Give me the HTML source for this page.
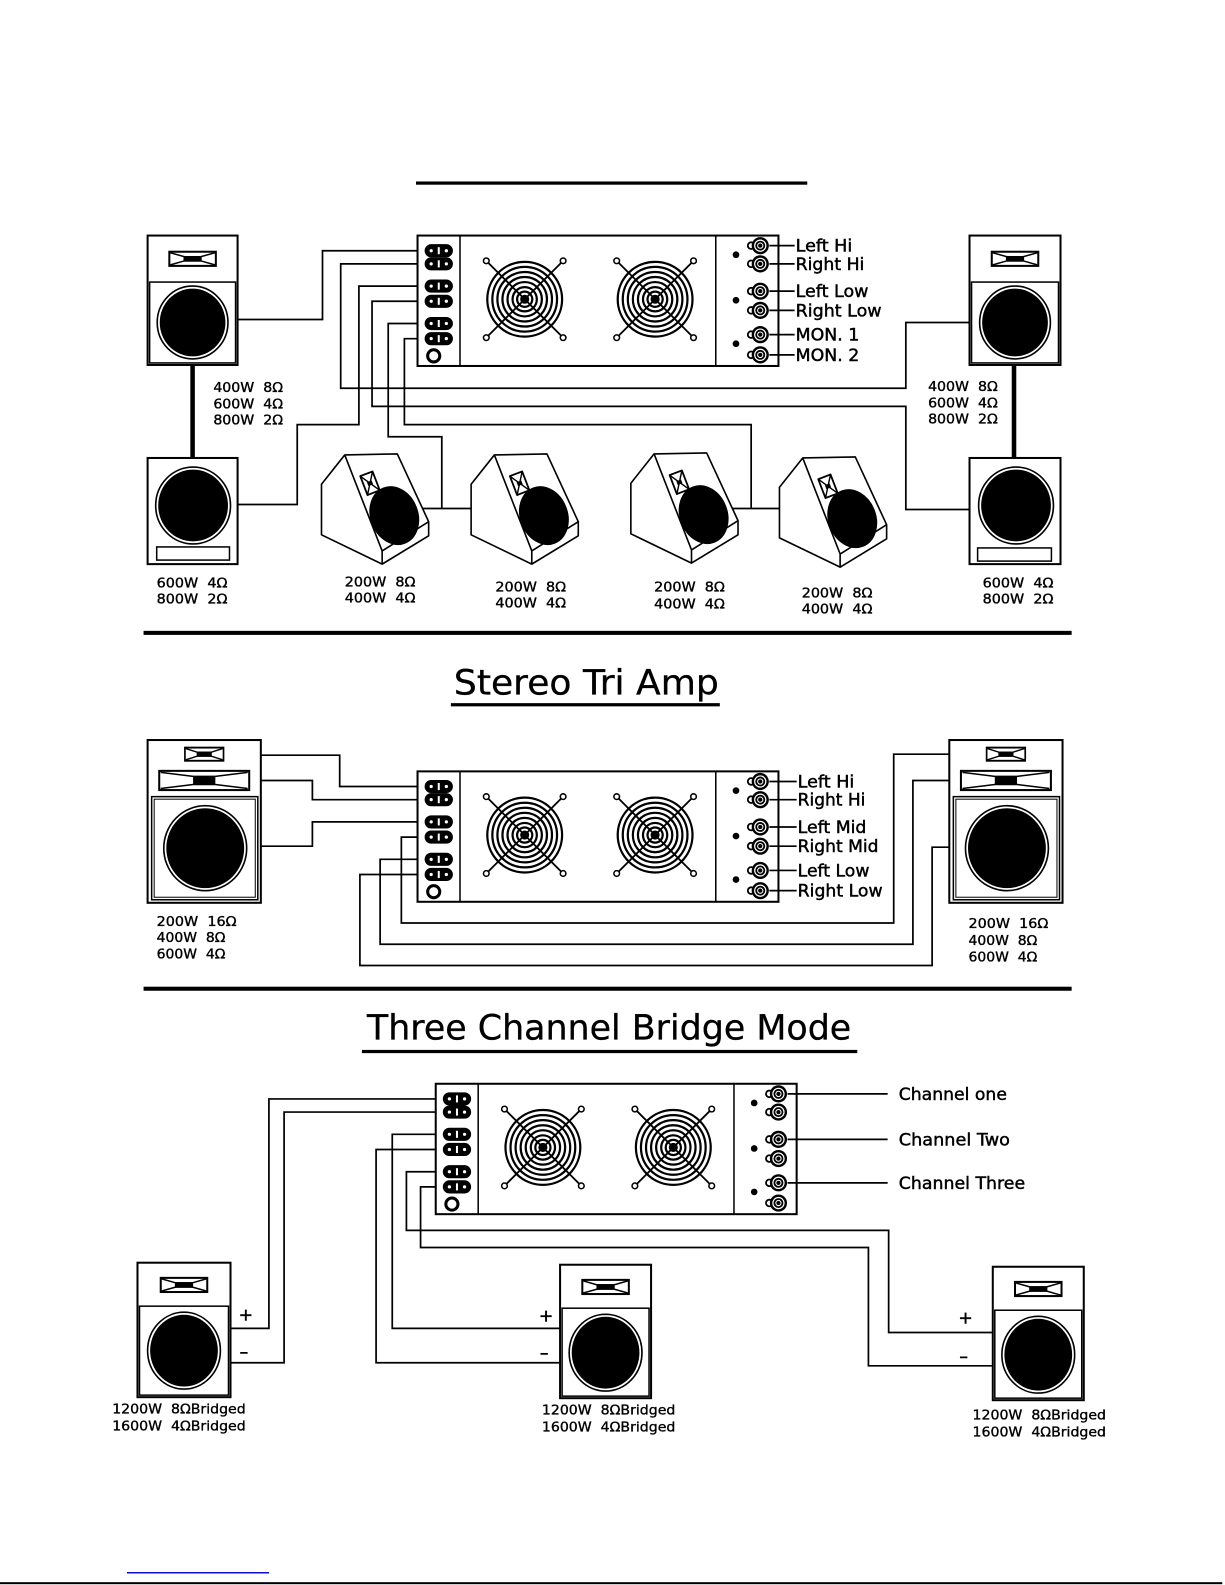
<!DOCTYPE html>
<html><head><meta charset="utf-8">
<style>
html,body{margin:0;padding:0;background:#fff;}
svg{display:block}
text{font-family:"DejaVu Sans","Liberation Sans",sans-serif;fill:#000;stroke:#000;stroke-width:0.35}
.j{font-size:17px;stroke-width:0.45}
.s{font-size:13px}
.t{font-size:34px;stroke-width:0.3}
.b{font-size:13.5px}
.pm{font-size:17px;stroke-width:0.5}
.w{fill:none;stroke:#000;stroke-width:1.7}
.bx{fill:#fff;stroke:#000;stroke-width:2}
.bx1{fill:#fff;stroke:#000;stroke-width:1.5}
.rg{fill:#fff;stroke:#000;stroke-width:1.6}
</style></head><body>
<svg width="1225" height="1585" viewBox="0 0 1211.7 1567.8" preserveAspectRatio="none" xmlns="http://www.w3.org/2000/svg">
<defs>
 <g id="con">
  <rect x="-14" y="-6.5" width="28" height="13" rx="6.5" fill="#000"/>
  <circle cx="-7.5" cy="0" r="1.6" fill="#fff"/>
  <rect x="-1" y="-3.5" width="2" height="7" fill="#fff"/>
  <circle cx="7.5" cy="0" r="1.6" fill="#fff"/>
 </g>
 <g id="jack">
  <circle cx="-9" cy="0" r="3.3" fill="#fff" stroke="#000" stroke-width="1.8"/>
  <circle r="8.5" fill="#000"/>
  <circle r="5.5" fill="none" stroke="#fff" stroke-width="1.2"/>
  <circle r="2.6" fill="none" stroke="#fff" stroke-width="1"/>
 </g>
 <g id="fan" fill="none" stroke="#000">
  <circle r="37" stroke-width="2.2"/>
  <circle r="32" stroke-width="2.2"/>
  <circle r="27" stroke-width="2.2"/>
  <circle r="22" stroke-width="2.2"/>
  <circle r="17" stroke-width="2.2"/>
  <circle r="12" stroke-width="2.2"/>
  <circle r="7.5" stroke-width="2.2"/>
  <circle r="4" fill="#000"/>
  <path d="M-36,-36L36,36M36,-36L-36,36" stroke-width="1.8"/>
  <circle cx="-38" cy="-38" r="2.8" fill="#fff" stroke-width="1.5"/>
  <circle cx="38" cy="-38" r="2.8" fill="#fff" stroke-width="1.5"/>
  <circle cx="-38" cy="38" r="2.8" fill="#fff" stroke-width="1.5"/>
  <circle cx="38" cy="38" r="2.8" fill="#fff" stroke-width="1.5"/>
 </g>
 <g id="amp">
  <rect x="0" y="0" width="357" height="129" fill="#fff" stroke="#000" stroke-width="2"/>
  <line x1="42" y1="0" x2="42" y2="129" stroke="#000" stroke-width="1.5"/>
  <line x1="295" y1="0" x2="295" y2="129" stroke="#000" stroke-width="1.5"/>
  <use href="#con" x="21" y="15"/>
  <use href="#con" x="21" y="28"/>
  <use href="#con" x="21" y="50"/>
  <use href="#con" x="21" y="65"/>
  <use href="#con" x="21" y="87"/>
  <use href="#con" x="21" y="102"/>
  <circle cx="16" cy="119" r="6" fill="#fff" stroke="#000" stroke-width="3"/>
  <use href="#fan" x="106" y="63"/>
  <use href="#fan" x="235" y="63"/>
  <circle cx="315" cy="19" r="3.3" fill="#000"/>
  <circle cx="315" cy="64" r="3.3" fill="#000"/>
  <circle cx="315" cy="107" r="3.3" fill="#000"/>
  <use href="#jack" x="339" y="10"/>
  <use href="#jack" x="339" y="28"/>
  <use href="#jack" x="339" y="55"/>
  <use href="#jack" x="339" y="74"/>
  <use href="#jack" x="339" y="98"/>
  <use href="#jack" x="339" y="118"/>
 </g>
 <g id="tw">
  <rect x="-23" y="-7" width="46" height="14" fill="#fff" stroke="#000" stroke-width="2"/>
  <path d="M-22,-6 L-8,-2 H8 L22,-6 M-22,6 L-8,2 H8 L22,6" fill="none" stroke="#000" stroke-width="1.5"/>
  <rect x="-9" y="-2.8" width="18" height="5.6" fill="#000"/>
 </g>
 <g id="mid">
  <rect x="-44.5" y="-9.5" width="89" height="19" fill="#fff" stroke="#000" stroke-width="2"/>
  <path d="M-43,-8 L-11,-4 H11 L43,-8 M-43,8 L-11,4 H11 L43,8" fill="none" stroke="#000" stroke-width="1.5"/>
  <rect x="-11" y="-4" width="22" height="8" fill="#000"/>
 </g>
 <g id="mon" stroke="#000" stroke-width="1.6" stroke-linejoin="round">
  <path d="M0,30 L23,1 L75,0 L106,67 L106,81 L60,109 L0,80 Z" fill="#fff"/>
  <path d="M23,1 L60,96 L106,67 M60,96 V109" fill="none"/>
  <ellipse cx="72" cy="61" rx="23" ry="29" transform="rotate(-21 72 61)" fill="#000"/>
  <g transform="translate(48,29) rotate(-21)">
   <rect x="-6.5" y="-10" width="13" height="20" fill="#fff" stroke-width="1.8"/>
   <path d="M-6.5,-10 L6.5,10 M6.5,-10 L-6.5,10" fill="none" stroke-width="1.4"/>
   <rect x="-2.5" y="-2" width="5" height="4" fill="#000" stroke="none"/>
  </g>
 </g>
</defs>

<!-- top title underline -->
<rect x="411.5" y="179.5" width="387" height="3.2" fill="#000"/>

<!-- ========== SECTION 1 ========== -->
<path class="w" d="M421,248 H319 V316 H235"/>
<path class="w" d="M421,261 H337 V384 H896 V319 H959"/>
<path class="w" d="M421,283 H355 V420 H294 V499 H235"/>
<path class="w" d="M421,298 H368 V402 H896 V504 H959"/>
<path class="w" d="M421,320 H384 V432 H437 V503"/>
<path class="w" d="M421,335 H400 V420 H743 V503"/>
<path class="w" d="M418,503 H466"/>
<path class="w" d="M724,503 H771"/>

<use href="#amp" x="413" y="233"/>
<path class="w" d="M761,243 H786 M761,261 H786 M761,288 H786 M761,307 H786 M761,331 H786 M761,351 H786"/>
<text class="j" x="787" y="249" textLength="56" lengthAdjust="spacingAndGlyphs">Left Hi</text>
<text class="j" x="787" y="267" textLength="68" lengthAdjust="spacingAndGlyphs">Right Hi</text>
<text class="j" x="787" y="294" textLength="72" lengthAdjust="spacingAndGlyphs">Left Low</text>
<text class="j" x="787" y="313" textLength="85" lengthAdjust="spacingAndGlyphs">Right Low</text>
<text class="j" x="787" y="337" textLength="63" lengthAdjust="spacingAndGlyphs">MON. 1</text>
<text class="j" x="787" y="357" textLength="63" lengthAdjust="spacingAndGlyphs">MON. 2</text>

<!-- left speakers -->
<rect x="146" y="233" width="89" height="128" class="bx"/>
<use href="#tw" x="190.5" y="256"/>
<rect x="148" y="279" width="85" height="80" class="bx1"/>
<ellipse cx="190.5" cy="319" rx="35" ry="36" class="rg"/>
<ellipse cx="190.5" cy="319" rx="32.5" ry="33.5" fill="#000"/>
<line x1="190.5" y1="361" x2="190.5" y2="453" stroke="#000" stroke-width="4.5"/>
<rect x="146" y="453" width="89" height="105" class="bx"/>
<ellipse cx="191" cy="500" rx="37" ry="38" class="rg"/>
<ellipse cx="191" cy="500" rx="34.5" ry="35.5" fill="#000"/>
<rect x="155" y="541" width="72" height="13" class="bx1"/>

<!-- right speakers -->
<rect x="959" y="233" width="90" height="128" class="bx"/>
<use href="#tw" x="1004" y="256"/>
<rect x="961" y="279" width="86" height="80" class="bx1"/>
<ellipse cx="1004" cy="319" rx="35" ry="36" class="rg"/>
<ellipse cx="1004" cy="319" rx="32.5" ry="33.5" fill="#000"/>
<line x1="1003" y1="361" x2="1003" y2="453" stroke="#000" stroke-width="4.5"/>
<rect x="959" y="453" width="90" height="105" class="bx"/>
<ellipse cx="1005" cy="500" rx="37" ry="38" class="rg"/>
<ellipse cx="1005" cy="500" rx="34.5" ry="35.5" fill="#000"/>
<rect x="967" y="542" width="73" height="13" class="bx1"/>

<!-- monitors -->
<use href="#mon" x="318" y="449"/>
<use href="#mon" x="466" y="449"/>
<use href="#mon" x="624" y="448"/>
<use href="#mon" x="771" y="452"/>

<!-- section 1 spec labels -->
<text class="s" x="211" y="388" textLength="69" lengthAdjust="spacingAndGlyphs">400W&#160;&#160;8Ω</text>
<text class="s" x="211" y="404" textLength="69" lengthAdjust="spacingAndGlyphs">600W&#160;&#160;4Ω</text>
<text class="s" x="211" y="420" textLength="69" lengthAdjust="spacingAndGlyphs">800W&#160;&#160;2Ω</text>
<text class="s" x="918" y="387" textLength="69" lengthAdjust="spacingAndGlyphs">400W&#160;&#160;8Ω</text>
<text class="s" x="918" y="403" textLength="69" lengthAdjust="spacingAndGlyphs">600W&#160;&#160;4Ω</text>
<text class="s" x="918" y="419" textLength="69" lengthAdjust="spacingAndGlyphs">800W&#160;&#160;2Ω</text>
<text class="s" x="155" y="581" textLength="70" lengthAdjust="spacingAndGlyphs">600W&#160;&#160;4Ω</text>
<text class="s" x="155" y="597" textLength="70" lengthAdjust="spacingAndGlyphs">800W&#160;&#160;2Ω</text>
<text class="s" x="972" y="581" textLength="70" lengthAdjust="spacingAndGlyphs">600W&#160;&#160;4Ω</text>
<text class="s" x="972" y="597" textLength="70" lengthAdjust="spacingAndGlyphs">800W&#160;&#160;2Ω</text>
<text class="s" x="341" y="580" textLength="70" lengthAdjust="spacingAndGlyphs">200W&#160;&#160;8Ω</text>
<text class="s" x="341" y="596" textLength="70" lengthAdjust="spacingAndGlyphs">400W&#160;&#160;4Ω</text>
<text class="s" x="490" y="585" textLength="70" lengthAdjust="spacingAndGlyphs">200W&#160;&#160;8Ω</text>
<text class="s" x="490" y="601" textLength="70" lengthAdjust="spacingAndGlyphs">400W&#160;&#160;4Ω</text>
<text class="s" x="647" y="585" textLength="70" lengthAdjust="spacingAndGlyphs">200W&#160;&#160;8Ω</text>
<text class="s" x="647" y="602" textLength="70" lengthAdjust="spacingAndGlyphs">400W&#160;&#160;4Ω</text>
<text class="s" x="793" y="591" textLength="70" lengthAdjust="spacingAndGlyphs">200W&#160;&#160;8Ω</text>
<text class="s" x="793" y="607" textLength="70" lengthAdjust="spacingAndGlyphs">400W&#160;&#160;4Ω</text>

<!-- divider 1 -->
<rect x="142" y="624" width="918" height="4" fill="#000"/>

<!-- ========== SECTION 2 ========== -->
<text class="t" x="449" y="687" textLength="262" lengthAdjust="spacingAndGlyphs">Stereo Tri Amp</text>
<rect x="446" y="695.5" width="266" height="3.2" fill="#000"/>

<path class="w" d="M258,747 H336 V778 H421"/>
<path class="w" d="M258,772 H309 V791 H421"/>
<path class="w" d="M258,837 H309 V813 H421"/>
<path class="w" d="M421,828 H397 V913 H884 V746 H939"/>
<path class="w" d="M421,850 H376 V934 H903 V772 H939"/>
<path class="w" d="M421,865 H356 V955 H922 V838 H939"/>

<use href="#amp" x="413" y="763"/>
<path class="w" d="M761,773 H788 M761,791 H788 M761,818 H788 M761,837 H788 M761,861 H788 M761,881 H788"/>
<text class="j" x="789" y="779" textLength="56" lengthAdjust="spacingAndGlyphs">Left Hi</text>
<text class="j" x="789" y="797" textLength="67" lengthAdjust="spacingAndGlyphs">Right Hi</text>
<text class="j" x="789" y="824" textLength="68" lengthAdjust="spacingAndGlyphs">Left Mid</text>
<text class="j" x="789" y="843" textLength="80" lengthAdjust="spacingAndGlyphs">Right Mid</text>
<text class="j" x="789" y="867" textLength="71" lengthAdjust="spacingAndGlyphs">Left Low</text>
<text class="j" x="789" y="887" textLength="84" lengthAdjust="spacingAndGlyphs">Right Low</text>

<!-- left 3-way speaker -->
<rect x="146" y="732" width="112" height="161" class="bx"/>
<use href="#tw" x="202" y="746" transform="translate(202 746) scale(0.83 0.93) translate(-202 -746)"/>
<use href="#mid" x="202" y="772"/>
<rect x="150" y="788" width="105" height="102" class="bx1"/>
<rect x="152.5" y="790.5" width="100" height="97" fill="none" stroke="#000" stroke-width="1"/>
<ellipse cx="203" cy="839" rx="41" ry="42" class="rg"/>
<ellipse cx="203" cy="839" rx="38.5" ry="39.5" fill="#000"/>

<!-- right 3-way speaker -->
<rect x="939" y="732" width="112" height="161" class="bx"/>
<use href="#tw" x="995" y="746" transform="translate(995 746) scale(0.83 0.93) translate(-995 -746)"/>
<use href="#mid" x="995" y="772"/>
<rect x="943" y="788" width="105" height="102" class="bx1"/>
<rect x="945.5" y="790.5" width="100" height="97" fill="none" stroke="#000" stroke-width="1"/>
<ellipse cx="996" cy="839" rx="41" ry="42" class="rg"/>
<ellipse cx="996" cy="839" rx="38.5" ry="39.5" fill="#000"/>

<text class="s" x="155" y="916" textLength="79" lengthAdjust="spacingAndGlyphs">200W&#160;&#160;16Ω</text>
<text class="s" x="155" y="932" textLength="68" lengthAdjust="spacingAndGlyphs">400W&#160;&#160;8Ω</text>
<text class="s" x="155" y="948" textLength="68" lengthAdjust="spacingAndGlyphs">600W&#160;&#160;4Ω</text>
<text class="s" x="958" y="918" textLength="79" lengthAdjust="spacingAndGlyphs">200W&#160;&#160;16Ω</text>
<text class="s" x="958" y="935" textLength="68" lengthAdjust="spacingAndGlyphs">400W&#160;&#160;8Ω</text>
<text class="s" x="958" y="951" textLength="68" lengthAdjust="spacingAndGlyphs">600W&#160;&#160;4Ω</text>

<!-- divider 2 -->
<rect x="142" y="976" width="918" height="4" fill="#000"/>

<!-- ========== SECTION 3 ========== -->
<text class="t" x="363" y="1028" textLength="479" lengthAdjust="spacingAndGlyphs">Three Channel Bridge Mode</text>
<rect x="358" y="1038.5" width="490" height="3.2" fill="#000"/>

<path class="w" d="M439,1087 H266 V1314 H228"/>
<path class="w" d="M439,1100 H281 V1348 H228"/>
<path class="w" d="M439,1122 H388 V1314 H554"/>
<path class="w" d="M439,1137 H372 V1348 H554"/>
<path class="w" d="M439,1159 H402 V1217 H879 V1318 H982"/>
<path class="w" d="M439,1174 H416 V1234 H859 V1351 H982"/>

<use href="#amp" x="431" y="1072"/>
<path class="w" d="M779,1082 H878 M779,1127 H878 M779,1170 H878"/>
<text class="j" x="889" y="1088" textLength="107" lengthAdjust="spacingAndGlyphs">Channel one</text>
<text class="j" x="889" y="1133" textLength="110" lengthAdjust="spacingAndGlyphs">Channel Two</text>
<text class="j" x="889" y="1176" textLength="125" lengthAdjust="spacingAndGlyphs">Channel Three</text>

<!-- speaker A -->
<rect x="136" y="1249" width="92" height="133" class="bx"/>
<use href="#tw" x="182" y="1271"/>
<rect x="138" y="1292" width="88" height="88" class="bx1"/>
<ellipse cx="182" cy="1336" rx="36" ry="38" class="rg"/>
<ellipse cx="182" cy="1336" rx="33.5" ry="35.5" fill="#000"/>
<!-- speaker B -->
<rect x="554" y="1251" width="90" height="132" class="bx"/>
<use href="#tw" x="599" y="1273"/>
<rect x="556" y="1294" width="86" height="87" class="bx1"/>
<ellipse cx="599" cy="1338" rx="36" ry="38" class="rg"/>
<ellipse cx="599" cy="1338" rx="33.5" ry="35.5" fill="#000"/>
<!-- speaker C -->
<rect x="982" y="1253" width="90" height="132" class="bx"/>
<use href="#tw" x="1027" y="1275"/>
<rect x="984" y="1296" width="86" height="87" class="bx1"/>
<ellipse cx="1027" cy="1340" rx="36" ry="38" class="rg"/>
<ellipse cx="1027" cy="1340" rx="33.5" ry="35.5" fill="#000"/>

<text class="pm" x="236" y="1306">+</text>
<text class="pm" x="237" y="1343">–</text>
<text class="pm" x="533" y="1307">+</text>
<text class="pm" x="534" y="1344">–</text>
<text class="pm" x="948" y="1309">+</text>
<text class="pm" x="949" y="1347">–</text>

<text class="b" x="111" y="1398" textLength="132" lengthAdjust="spacingAndGlyphs">1200W&#160;&#160;8ΩBridged</text>
<text class="b" x="111" y="1415" textLength="132" lengthAdjust="spacingAndGlyphs">1600W&#160;&#160;4ΩBridged</text>
<text class="b" x="536" y="1399" textLength="132" lengthAdjust="spacingAndGlyphs">1200W&#160;&#160;8ΩBridged</text>
<text class="b" x="536" y="1416" textLength="132" lengthAdjust="spacingAndGlyphs">1600W&#160;&#160;4ΩBridged</text>
<text class="b" x="962" y="1404" textLength="132" lengthAdjust="spacingAndGlyphs">1200W&#160;&#160;8ΩBridged</text>
<text class="b" x="962" y="1421" textLength="132" lengthAdjust="spacingAndGlyphs">1600W&#160;&#160;4ΩBridged</text>

<!-- bottom lines -->
<rect x="125.6" y="1555" width="140.5" height="1.4" fill="#0000cc"/>
<rect x="0" y="1565" width="1209" height="2" fill="#000"/>
</svg>
</body></html>
